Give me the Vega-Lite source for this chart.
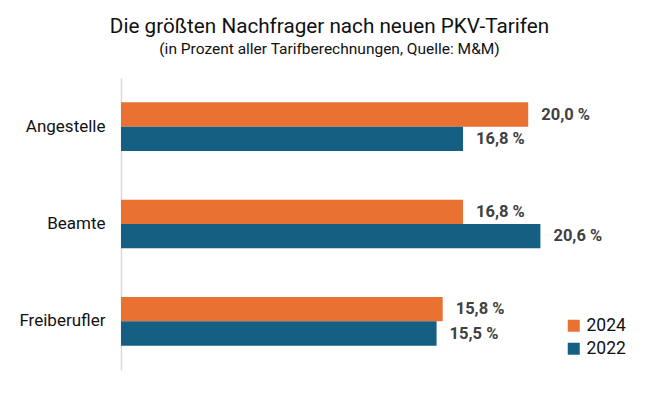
{
  "$schema": "https://vega.github.io/schema/vega-lite/v6.json",
  "width": 509,
  "height": 292,
  "autosize": {"type": "none"},
  "padding": {"left": 121, "top": 78, "right": 30, "bottom": 24},
  "background": "white",
  "title": {
    "text": "Die größten Nachfrager nach neuen PKV-Tarifen",
    "subtitle": "(in Prozent aller Tarifberechnungen, Quelle: M&M)",
    "anchor": "middle",
    "dx": -46,
    "offset": 20,
    "font": "Roboto",
    "fontSize": 20.7,
    "fontWeight": "normal",
    "color": "#111111",
    "subtitleFont": "Roboto",
    "subtitleFontSize": 15.5,
    "subtitleColor": "#111111",
    "subtitlePadding": 4
  },
  "data": {
    "values": [
      {"gruppe": "Angestelle", "jahr": "2024", "wert": 20.0, "label": "20,0 %"},
      {"gruppe": "Angestelle", "jahr": "2022", "wert": 16.8, "label": "16,8 %"},
      {"gruppe": "Beamte", "jahr": "2024", "wert": 16.8, "label": "16,8 %"},
      {"gruppe": "Beamte", "jahr": "2022", "wert": 20.6, "label": "20,6 %"},
      {"gruppe": "Freiberufler", "jahr": "2024", "wert": 15.8, "label": "15,8 %"},
      {"gruppe": "Freiberufler", "jahr": "2022", "wert": 15.5, "label": "15,5 %"}
    ]
  },
  "encoding": {
    "y": {
      "field": "gruppe",
      "type": "nominal",
      "sort": ["Angestelle", "Beamte", "Freiberufler"],
      "scale": {"paddingInner": 0.5, "paddingOuter": 0.25},
      "axis": {
        "title": null,
        "ticks": false,
        "domainColor": "#d9d9d9",
        "domainWidth": 1.5,
        "labelFont": "Roboto",
        "labelFontSize": 17,
        "labelColor": "#111111",
        "labelPadding": 16
      }
    },
    "x": {
      "field": "wert",
      "type": "quantitative",
      "scale": {"domain": [0, 25]},
      "axis": null
    },
    "yOffset": {"field": "jahr", "type": "nominal", "sort": ["2024", "2022"], "scale": {"paddingInner": 0}}
  },
  "layer": [
    {
      "mark": {"type": "bar"},
      "encoding": {
        "color": {
          "field": "jahr",
          "type": "nominal",
          "scale": {"domain": ["2024", "2022"], "range": ["#E97132", "#156082"]},
          "legend": {
            "title": null,
            "orient": "none",
            "legendX": 444,
            "legendY": 239,
            "symbolType": "square",
            "symbolSize": 144,
            "symbolStrokeWidth": 0,
            "labelFont": "Roboto",
            "labelFontSize": 17.5,
            "labelColor": "#111111",
            "rowPadding": 4,
            "labelOffset": 4
          }
        }
      }
    },
    {
      "mark": {
        "type": "text",
        "align": "left",
        "baseline": "middle",
        "dx": 13,
        "font": "Roboto",
        "fontSize": 16.5,
        "fontWeight": "bold",
        "color": "#404040"
      },
      "encoding": {"text": {"field": "label"}}
    }
  ],
  "config": {"view": {"stroke": null}}
}
